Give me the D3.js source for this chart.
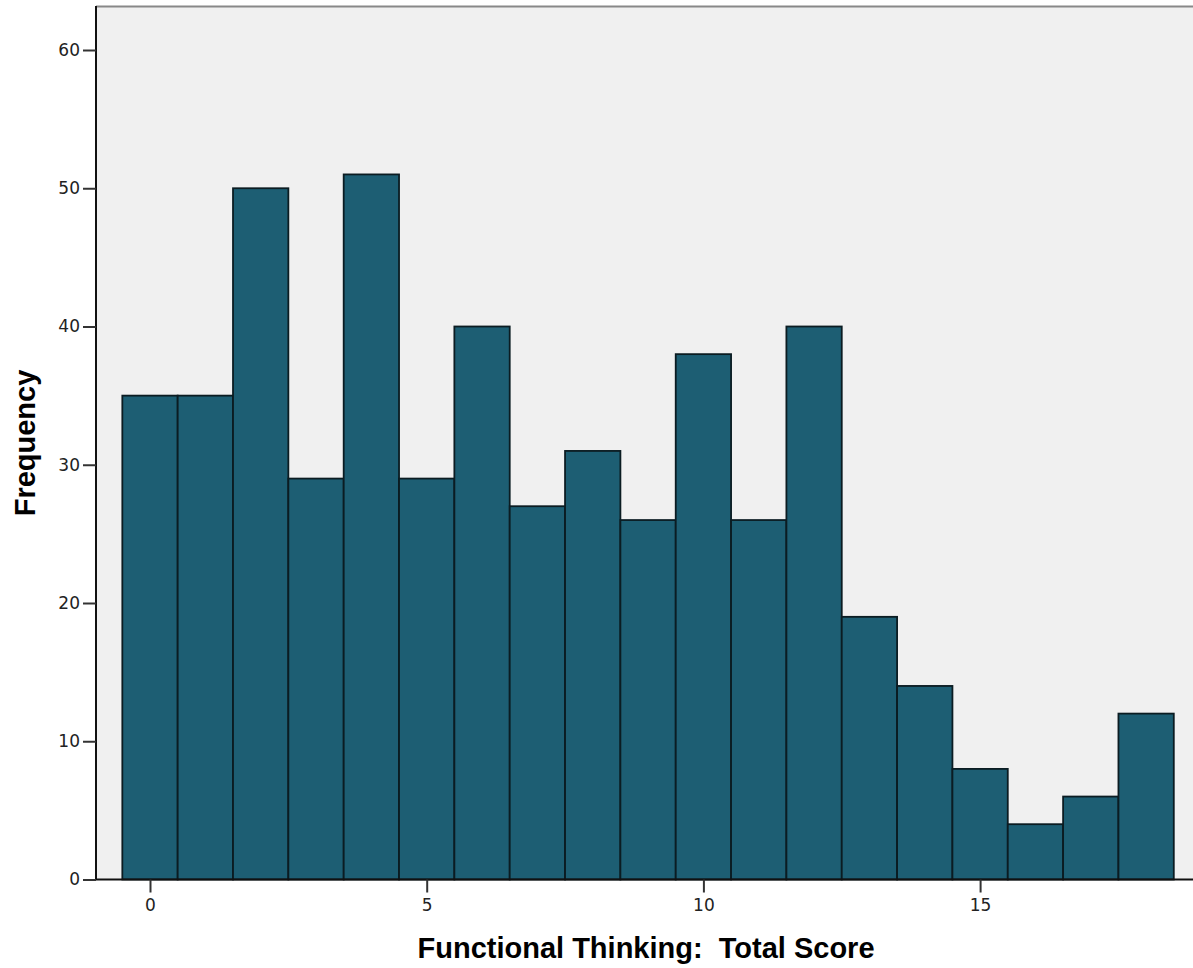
<!DOCTYPE html>
<html><head><meta charset="utf-8">
<script src="https://cdn.jsdelivr.net/npm/d3@7"></script>
<style>html,body{margin:0;padding:0;background:#fff;overflow:hidden}</style>
</head><body>
<svg id="c" width="1193" height="968"></svg>
<script>
const scores = [0,1,2,3,4,5,6,7,8,9,10,11,12,13,14,15,16,17,18];
const frequencies = [35,35,50,29,51,29,40,27,31,26,38,26,40,19,14,8,4,6,12];
const xTicks = [0,5,10,15];
const yTicks = [0,10,20,30,40,50,60];
const xTitle = "Functional Thinking:  Total Score";
const yTitle = "Frequency";

const svg = d3.select("#c");
const pL = 96, pR = 1200, pT = 6, pB = 879.5;
const x = d3.scaleLinear().domain([0,5]).range([150,426.7]);
const y = d3.scaleLinear().domain([0,60]).range([pB,50]);

svg.append("rect").attr("x",pL).attr("y",pT).attr("width",pR-pL).attr("height",pB-pT).attr("fill","#f0f0f0");
svg.append("line").attr("x1",pL).attr("x2",pR).attr("y1",pT+0.5).attr("y2",pT+0.5).attr("stroke","#888").attr("stroke-width",2);

svg.append("g").selectAll("rect").data(scores).join("rect")
  .attr("x",(d)=>x(d-0.5)).attr("width",(d)=>x(d+0.5)-x(d-0.5))
  .attr("y",(d,i)=>y(frequencies[i])).attr("height",(d,i)=>pB-y(frequencies[i]))
  .attr("fill","#1d5e73").attr("stroke","#0b1c22").attr("stroke-width",1.8);

const fontT = "'DejaVu Sans', sans-serif";
const yAxis = svg.append("g").attr("transform",`translate(${pL},0)`)
  .call(d3.axisLeft(y).tickValues(yTicks).tickFormat(d3.format("d")).tickSize(13).tickPadding(3));
yAxis.select(".domain").attr("stroke","#111").attr("stroke-width",2).attr("d",`M0,${pT}V${pB}`);
yAxis.selectAll(".tick line").attr("stroke","#333").attr("stroke-width",2);
yAxis.selectAll("text").attr("font-family",fontT).attr("font-size",17).attr("fill","#222");

const xAxis = svg.append("g").attr("transform",`translate(0,${pB})`)
  .call(d3.axisBottom(x).tickValues(xTicks).tickFormat(d3.format("d")).tickSize(13).tickPadding(6));
xAxis.select(".domain").attr("stroke","#111").attr("stroke-width",2).attr("d",`M${pL},0H${pR}`);
xAxis.selectAll(".tick line").attr("stroke","#333").attr("stroke-width",2);
xAxis.selectAll("text").attr("font-family",fontT).attr("font-size",17).attr("fill","#222");

svg.append("text").attr("x",646).attr("y",958).attr("text-anchor","middle")
  .attr("font-family","'Liberation Sans', Arial, sans-serif").attr("font-weight","bold").attr("font-size",29)
  .style("white-space","pre").text(xTitle);
svg.append("text").attr("transform","translate(35,443) rotate(-90)").attr("text-anchor","middle")
  .attr("font-family","'Liberation Sans', Arial, sans-serif").attr("font-weight","bold").attr("font-size",29)
  .text(yTitle);
</script>
</body></html>
